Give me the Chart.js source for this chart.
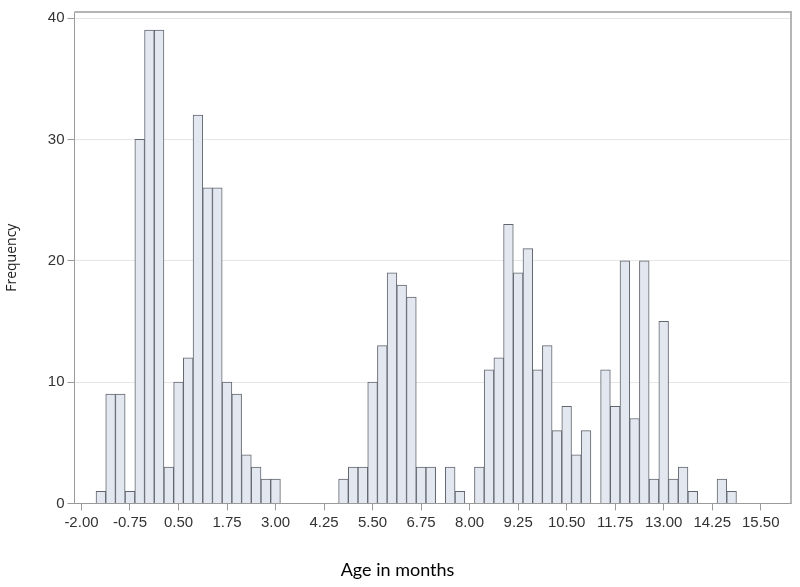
<!DOCTYPE html>
<html>
<head>
<meta charset="utf-8">
<script src="https://cdn.jsdelivr.net/npm/chart.js@4.4.0/dist/chart.umd.min.js"></script>
<style>
  html, body { margin: 0; padding: 0; background: #fff; }
  #wrap { width: 800px; height: 587px; }
</style>
</head>
<body>
<div id="wrap"><canvas id="chart1"></canvas></div>
<script>
// bin midpoints (months), bin width 0.25 -- empty bins left out
var binMids = [
  -1.5, -1.25, -1.0, -0.75, -0.5, -0.25, 0, 0.25, 0.5, 0.75, 1.0, 1.25, 1.5, 1.75, 2.0, 2.25, 2.5, 2.75, 3.0,
  4.75, 5.0, 5.25, 5.5, 5.75, 6.0, 6.25, 6.5, 6.75, 7.0,
  7.5, 7.75,
  8.25, 8.5, 8.75, 9.0, 9.25, 9.5, 9.75, 10.0, 10.25, 10.5, 10.75, 11.0,
  11.5, 11.75, 12.0, 12.25, 12.5, 12.75, 13.0, 13.25, 13.5, 13.75,
  14.5, 14.75
]
var counts = [
  1, 9, 9, 1, 30, 39, 39, 3, 10, 12, 32, 26, 26, 10, 9, 4, 3, 2, 2,
  2, 3, 3, 10, 13, 19, 18, 17, 3, 3,
  3, 1,
  3, 11, 12, 23, 19, 21, 11, 13, 6, 8, 4, 6,
  11, 8, 20, 7, 20, 2, 15, 2, 3, 1,
  2, 1
]
var xTicks = [-2, -0.75, 0.5, 1.75, 3, 4.25, 5.5, 6.75, 8, 9.25, 10.5, 11.75, 13, 14.25, 15.5]
var yTicks = [0, 10, 20, 30, 40]

var tickFont = { family: "'Liberation Sans', Arial, sans-serif", size: 15 }

// top + right edge of the plot frame
var framePlugin = {
  id: 'frame',
  afterDraw(chart) {
    var a = chart.chartArea, ctx = chart.ctx
    ctx.save()
    ctx.strokeStyle = '#b5b5b5'
    ctx.lineWidth = 2
    ctx.beginPath()
    ctx.moveTo(a.left, a.top)
    ctx.lineTo(a.right, a.top)
    ctx.lineTo(a.right, a.bottom)
    ctx.stroke()
    ctx.restore()
  }
}

var ctx = document.getElementById('chart1').getContext('2d')
var cfg = {
  type: 'bar',
  data: {
    datasets: [{
      label: 'Frequency',
      data: binMids.map((m, i) => ({ x: m, y: counts[i] })),
      backgroundColor: '#e3e7f0',
      borderColor: '#62666e',
      borderWidth: 1,
      barPercentage: 1,
      categoryPercentage: 1
    }]
  },
  options: {
    responsive: true,
    maintainAspectRatio: false,
    animation: false,
    layout: { padding: { top: -2, right: 9, left: 4, bottom: 0 } },
    plugins: {
      legend: { display: false },
      tooltip: { enabled: false },
      title: {
        display: true,
        position: 'bottom',
        text: 'Age in months',
        color: '#000',
        font: { family: 'Lato, Carlito, sans-serif', size: 18, weight: 'normal' },
        padding: { top: 25, bottom: 6 }
      }
    },
    scales: {
      x: {
        type: 'linear',
        offset: false,
        min: -2.18,
        max: 16.28,
        afterBuildTicks: scale => { scale.ticks = xTicks.map(v => ({ value: v })) },
        ticks: {
          autoSkip: false,
          maxRotation: 0,
          color: '#333',
          font: tickFont,
          padding: 3,
          callback: v => v.toFixed(2)
        },
        grid: { offset: false, drawOnChartArea: false, tickLength: 7, tickColor: '#9a9a9a' },
        border: { color: '#9a9a9a' }
      },
      y: {
        min: 0,
        max: 40.5,
        afterBuildTicks: scale => { scale.ticks = yTicks.map(v => ({ value: v })) },
        ticks: { color: '#333', font: tickFont, padding: 3 },
        grid: { color: '#e6e6e6', tickLength: 7, tickColor: '#9a9a9a' },
        border: { color: '#9a9a9a' },
        title: {
          display: true,
          text: 'Frequency',
          color: '#222',
          font: { family: "'Open Sans', sans-serif", size: 14 },
          padding: { top: 0, bottom: 24 }
        }
      }
    }
  },
  plugins: [framePlugin]
}
var chart = new Chart(ctx, cfg)
</script>
</body>
</html>
